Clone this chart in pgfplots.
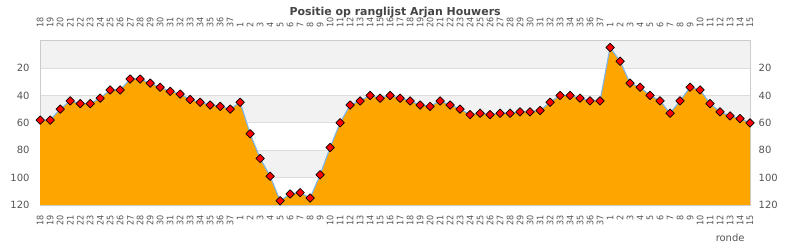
\documentclass[border=0pt]{standalone}
\usepackage{fontspec}
\setmainfont{DejaVu Sans}
\newfontfamily\condfont[FakeStretch=0.9]{DejaVu Sans}
\usepackage{pgfplots}
\usepackage{pgfplotstable}
\pgfplotsset{compat=1.18}
\definecolor{bandgray}{HTML}{F2F2F2}
\definecolor{gridgray}{HTML}{DDDDDD}
\definecolor{boxgray}{HTML}{CCCCCC}
\definecolor{lab}{HTML}{555555}
\definecolor{ttl}{HTML}{444444}
\definecolor{areaor}{HTML}{FFA500}
\definecolor{lineblue}{HTML}{7CB5EC}
\pgfplotstableread{
x y
0 58
1 58
2 50
3 44
4 46
5 46
6 42
7 36
8 36
9 28
10 28
11 31
12 34
13 37
14 39
15 43
16 45
17 47
18 48
19 50
20 45
21 68
22 86
23 99
24 117
25 112
26 111
27 115
28 98
29 78
30 60
31 47
32 44
33 40
34 42
35 40
36 42
37 44
38 47
39 48
40 44
41 47
42 50
43 54
44 53
45 54
46 53
47 53
48 52
49 52
50 51
51 45
52 40
53 40
54 42
55 44
56 44
57 5
58 15
59 31
60 34
61 40
62 44
63 53
64 44
65 34
66 36
67 46
68 52
69 55
70 57
71 60
}\data
\def\xlabs{18,19,20,21,22,23,24,25,26,27,28,29,30,31,32,33,34,35,36,37,1,2,3,4,5,6,7,8,9,10,11,12,13,14,15,16,17,18,19,20,21,22,23,24,25,26,27,28,29,30,31,32,33,34,35,36,37,1,2,3,4,5,6,7,8,9,10,11,12,13,14,15}
\pgfplotsset{
  common/.style={
    scale only axis, width=710bp, height=164.3bp,
    xmin=0, xmax=71, ymin=0, ymax=120, y dir=reverse,
    xtick={0,...,71}, xticklabels/.expanded={\xlabs},
    ytick={20,40,60,80,100,120},
    major tick length=0pt,
    every tick label/.append style={text=lab},
    yticklabel style={font=\fontsize{10}{10}\selectfont},
    /pgf/number format/assume math mode=true,
  }
}
\begin{document}
\begin{tikzpicture}
\begin{axis}[common, set layers, name=main, clip=false,
  axis line style={boxgray},
  ymajorgrids, grid style={gridgray, line width=0.8bp},
  xticklabel style={rotate=90, anchor=east, font=\condfont\fontsize{9}{9}\selectfont, inner xsep=10.5bp, inner ysep=0pt},
  yticklabel style={anchor=east, inner xsep=10.5bp, inner ysep=0pt},
]
\begin{pgfonlayer}{axis background}
\fill[bandgray] (axis cs:0,0) rectangle (axis cs:71,20);
\fill[bandgray] (axis cs:0,40) rectangle (axis cs:71,60);
\fill[bandgray] (axis cs:0,80) rectangle (axis cs:71,100);
\end{pgfonlayer}
\addplot[draw=none, fill=areaor] table[x=x,y=y]{\data} -- (axis cs:71,120) -- (axis cs:0,120) -- cycle;
\addplot[color=lineblue, line width=1.1bp, mark=square*, mark size=3bp,
  mark options={fill=red, draw=black, line width=0.7bp, rotate=45, solid, line join=round}] table[x=x,y=y]{\data};
\end{axis}
\begin{axis}[common,
  axis x line*=top, axis y line*=right,
  axis line style={draw=none},
  xticklabel style={rotate=90, anchor=west, font=\condfont\fontsize{9}{9}\selectfont, inner xsep=12.5bp, inner ysep=0pt},
  yticklabel style={anchor=west, inner xsep=8.5bp, inner ysep=0pt},
]
\end{axis}
\node[anchor=base, font=\bfseries\fontsize{11}{11}\selectfont, text=ttl] at ([yshift=25.4bp]main.north) {Positie op ranglijst Arjan Houwers};
\node[anchor=base east, font=\fontsize{10}{10}\selectfont, text=lab] at ([xshift=-2bp, yshift=-36.5bp]main.south east) {ronde};
\path ([xshift=-40bp,yshift=-45bp]main.south west) rectangle ([xshift=40bp,yshift=40.7bp]main.north east);
\end{tikzpicture}
\end{document}
